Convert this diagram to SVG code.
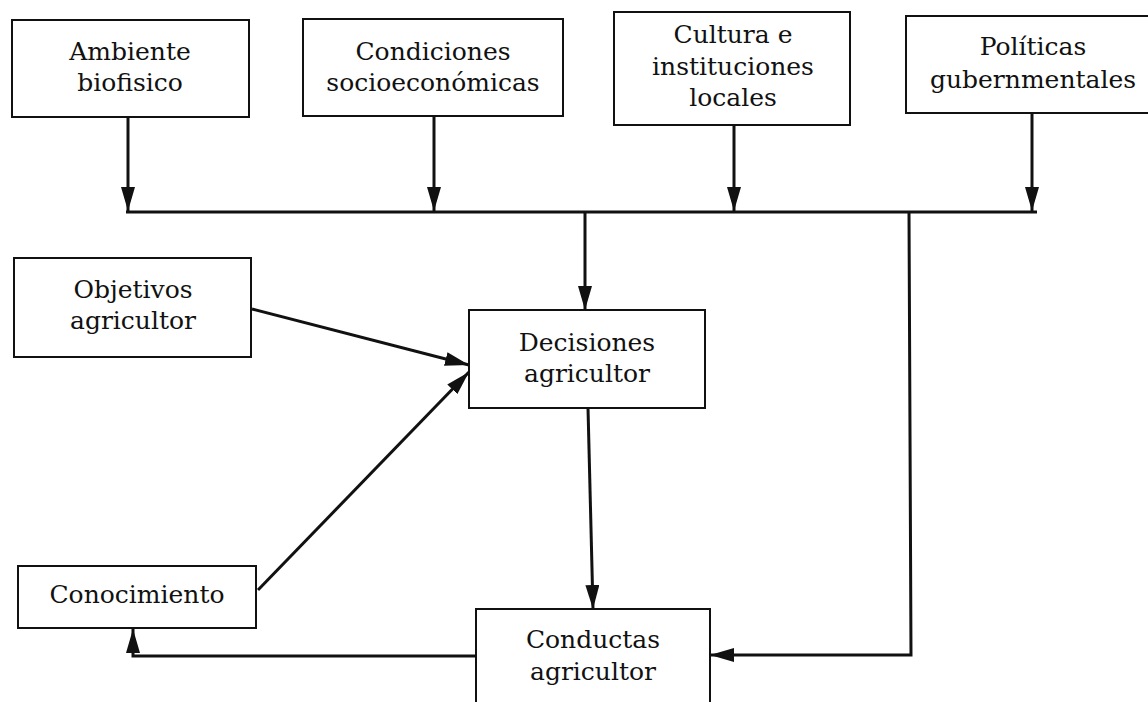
<svg xmlns="http://www.w3.org/2000/svg" width="1148" height="702" viewBox="0 0 1148 702">
<style>
.box{fill:#fff;stroke:#111;stroke-width:2}
.lbl{font-family:"DejaVu Serif","Liberation Serif",serif;font-size:25px;fill:#111;text-anchor:middle}
.con{fill:none;stroke:#111;stroke-width:3}
</style>
<defs>
<marker id="ah" markerWidth="24" markerHeight="14" refX="24" refY="7" orient="auto" markerUnits="userSpaceOnUse">
<path d="M0,0 L24,7 L0,14 z" fill="#111"/>
</marker>
</defs>
<rect width="1148" height="702" fill="#fff"/>
<g id="ambiente"><rect class="box" x="12" y="20" width="237" height="97"/><text class="lbl" x="130" y="60">Ambiente</text><text class="lbl" x="130" y="91">biofisico</text></g>
<g id="condiciones"><rect class="box" x="303" y="19" width="260" height="97"/><text class="lbl" x="433" y="60">Condiciones</text><text class="lbl" x="433" y="91">socioeconómicas</text></g>
<g id="cultura"><rect class="box" x="614" y="12" width="236" height="113"/><text class="lbl" x="733" y="43">Cultura e</text><text class="lbl" x="733" y="75">instituciones</text><text class="lbl" x="733" y="106">locales</text></g>
<g id="politicas"><rect class="box" x="906" y="16" width="254" height="97"/><text class="lbl" x="1033" y="55">Políticas</text><text class="lbl" x="1033" y="88">gubernmentales</text></g>
<g id="objetivos"><rect class="box" x="14" y="258" width="237" height="99"/><text class="lbl" x="133" y="298">Objetivos</text><text class="lbl" x="133" y="329">agricultor</text></g>
<g id="decisiones"><rect class="box" x="469" y="310" width="236" height="98"/><text class="lbl" x="587" y="351">Decisiones</text><text class="lbl" x="587" y="382">agricultor</text></g>
<g id="conocimiento"><rect class="box" x="18" y="566" width="238" height="62"/><text class="lbl" x="137" y="603">Conocimiento</text></g>
<g id="conductas"><rect class="box" x="476" y="609" width="234" height="110"/><text class="lbl" x="593" y="648">Conductas</text><text class="lbl" x="593" y="680">agricultor</text></g>
<g id="connectors">
<line class="con" x1="128" y1="117" x2="128" y2="211" marker-end="url(#ah)"/>
<line class="con" x1="434" y1="116" x2="434" y2="211" marker-end="url(#ah)"/>
<line class="con" x1="734" y1="125" x2="734" y2="211" marker-end="url(#ah)"/>
<line class="con" x1="1032" y1="113" x2="1032" y2="211" marker-end="url(#ah)"/>
<line class="con" x1="126" y1="212" x2="1037" y2="212"/>
<line class="con" x1="585" y1="212" x2="585" y2="310" marker-end="url(#ah)"/>
<polyline class="con" points="909,212 911,655 710,655" marker-end="url(#ah)"/>
<line class="con" x1="252" y1="309" x2="469" y2="365" marker-end="url(#ah)"/>
<line class="con" x1="258" y1="590" x2="469" y2="372" marker-end="url(#ah)"/>
<line class="con" x1="588" y1="408" x2="593" y2="609" marker-end="url(#ah)"/>
<polyline class="con" points="476,656 133,656 133,629" marker-end="url(#ah)"/>
</g>
</svg>
